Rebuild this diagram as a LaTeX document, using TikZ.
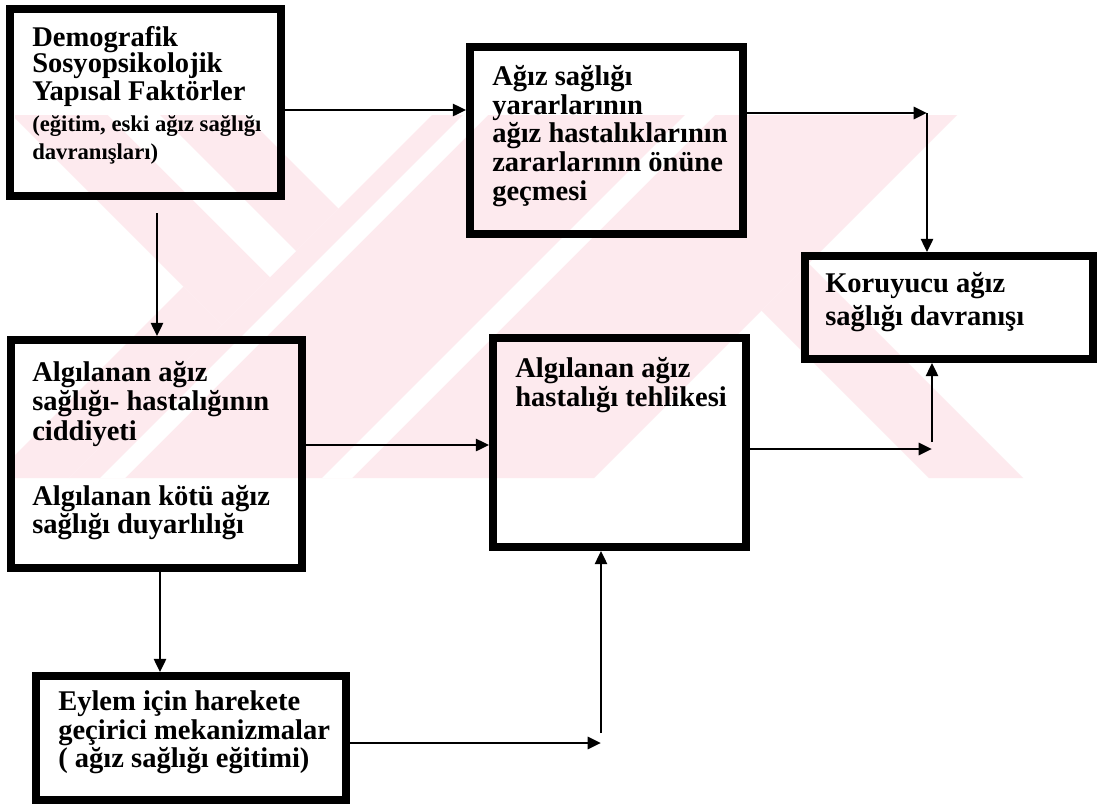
\documentclass[tikz,border=0pt]{standalone}
\usepackage{fontspec}
\setmainfont{Liberation Serif}
\usetikzlibrary{arrows.meta,fit}
\definecolor{markpink}{RGB}{253,234,238}

\begin{document}
\begin{tikzpicture}[x=0.75pt,y=-0.75pt,
  box/.style={draw=black,line width=5.8pt,inner sep=0pt,rectangle},
  txt/.style={anchor=base west,inner sep=0pt,font=\bfseries\fontsize{21.4}{22}\selectfont},
  smalltxt/.style={anchor=base west,inner sep=0pt,font=\bfseries\fontsize{17}{18}\selectfont},
  link/.style={draw=black,line width=2.2pt,-{Triangle[length=10pt,width=9pt]}},
]
\useasboundingbox (0,0) rectangle (1097,804);
\fill[white] (0,0) rectangle (1097,804);

% background emblem: pale diagonal bands
\begin{scope}
  \clip (15,115) rectangle (1030,478);
  \fill[markpink] (12,115) -- (245,115) -- (338.5,208.5) -- (222,325) -- cycle;
  \fill[markpink] (432,115) -- (957,115) -- (594,478) -- (69,478) -- cycle;
  \fill[markpink] (761.5,310.5) -- (808.5,263.5) -- (1023,478) -- (929,478) -- cycle;
  \fill[markpink] (183.5,286.5) -- (222,325) -- (69,478) -- (-8,478) -- cycle;
  \fill[white] (108,115) -- (160,115) -- (296,251) -- (270,277) -- cycle;
  \fill[white] (463,115) -- (488,115) -- (125,478) -- (100,478) -- cycle;
  \fill[white] (685,115) -- (715,115) -- (352,478) -- (322,478) -- cycle;
\end{scope}

% boxes
\node[box,fit={(10,9) (281,196)}] (demo) {};
\node[box,fit={(470,47) (743,234)}] (yarar) {};
\node[box,fit={(805,256) (1093,359)}] (koru) {};
\node[box,fit={(11,340) (302,568)}] (algi) {};
\node[box,fit={(493,338) (746,547)}] (tehlike) {};
\node[box,fit={(36,676) (346,800)}] (eylem) {};

% texts
\node[txt] (demo1) at (32,46) {Demografik};
\node[txt] (demo2) at (32,72) {Sosyopsikolojik};
\node[txt] (demo3) at (32,100) {Yapısal Faktörler};
\node[smalltxt] (demo4) at (32,131) {(eğitim, eski ağız sağlığı};
\node[smalltxt] (demo5) at (32,159) {davranışları)};

\node[txt] (yarar1) at (492,85) {Ağız sağlığı};
\node[txt] (yarar2) at (492,114) {yararlarının};
\node[txt] (yarar3) at (492,142) {ağız hastalıklarının};
\node[txt] (yarar4) at (492,171) {zararlarının önüne};
\node[txt] (yarar5) at (492,200) {geçmesi};

\node[txt] (koru1) at (825,292) {Koruyucu ağız};
\node[txt] (koru2) at (825,325) {sağlığı davranışı};

\node[txt] (algi1) at (32,381) {Algılanan ağız};
\node[txt] (algi2) at (32,410) {sağlığı- hastalığının};
\node[txt] (algi3) at (32,440) {ciddiyeti};
\node[txt] (algi4) at (32,505) {Algılanan kötü ağız};
\node[txt] (algi5) at (32,533) {sağlığı duyarlılığı};

\node[txt] (tehlike1) at (515,377) {Algılanan ağız};
\node[txt] (tehlike2) at (515,406) {hastalığı tehlikesi};

\node[txt] (eylem1) at (58,710) {Eylem için harekete};
\node[txt] (eylem2) at (58,739) {geçirici mekanizmalar};
\node[txt] (eylem3) at (58,767) {( ağız sağlığı eğitimi)};

% connector end points and levels
\coordinate (rowA) at (0,110);
\coordinate (rowB) at (0,445);
\coordinate (colA) at (157,213);
\coordinate (colB) at (160,0);
\coordinate (kTop) at (927,113);
\coordinate (kBot) at (932,449);
\coordinate (kBotUp) at (932,442);
\coordinate (tBot) at (601,743);
\coordinate (tBotUp) at (601,733);

% connectors
\draw[link] (demo.east |- rowA) -- (yarar.west |- rowA);
\draw[link] (colA) -- (colA |- algi.north);
\draw[link] (yarar.east |- kTop) -- (kTop);
\draw[link] (kTop) -- (kTop |- koru.north);
\draw[link] (algi.east |- rowB) -- (tehlike.west |- rowB);
\draw[link] (tehlike.east |- kBot) -- (kBot);
\draw[link] (kBotUp) -- (kBotUp |- koru.south);
\draw[link] (algi.south -| colB) -- (eylem.north -| colB);
\draw[link] (eylem.east |- tBot) -- (tBot);
\draw[link] (tBotUp) -- (tBotUp |- tehlike.south);
\end{tikzpicture}
\end{document}
